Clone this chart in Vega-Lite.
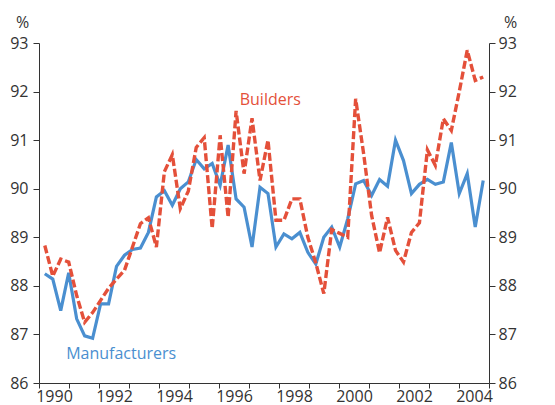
{
  "$schema": "https://vega.github.io/schema/vega-lite/v6.json",
  "autosize": "none",
  "width": 450,
  "height": 340,
  "padding": {"left": 39, "top": 43, "right": 66, "bottom": 23},
  "background": "white",
  "config": {
    "view": {"stroke": null},
    "font": "Open Sans",
    "axis": {"labelFont": "Open Sans", "labelFontSize": 16, "labelColor": "#333333", "domainColor": "#333333", "tickColor": "#333333", "grid": false, "titleFont": "Open Sans", "titleFontSize": 16, "titleFontWeight": "normal", "titleColor": "#333333"}
  },
  "data": {"values": [
    {"t": 1990.193, "Manufacturers": 88.25, "Builders": 88.83},
    {"t": 1990.459, "Manufacturers": 88.14, "Builders": 88.20},
    {"t": 1990.724, "Manufacturers": 87.49, "Builders": 88.55},
    {"t": 1990.990, "Manufacturers": 88.27, "Builders": 88.49},
    {"t": 1991.256, "Manufacturers": 87.32, "Builders": 87.80},
    {"t": 1991.522, "Manufacturers": 86.97, "Builders": 87.25},
    {"t": 1991.787, "Manufacturers": 86.92, "Builders": 87.45},
    {"t": 1992.053, "Manufacturers": 87.63, "Builders": 87.70},
    {"t": 1992.319, "Manufacturers": 87.63, "Builders": 87.95},
    {"t": 1992.584, "Manufacturers": 88.40, "Builders": 88.14},
    {"t": 1992.850, "Manufacturers": 88.63, "Builders": 88.32},
    {"t": 1993.116, "Manufacturers": 88.75, "Builders": 88.80},
    {"t": 1993.381, "Manufacturers": 88.78, "Builders": 89.28},
    {"t": 1993.647, "Manufacturers": 89.10, "Builders": 89.40},
    {"t": 1993.913, "Manufacturers": 89.83, "Builders": 88.80},
    {"t": 1994.179, "Manufacturers": 89.96, "Builders": 90.35},
    {"t": 1994.444, "Manufacturers": 89.66, "Builders": 90.70},
    {"t": 1994.710, "Manufacturers": 90.00, "Builders": 89.59},
    {"t": 1994.976, "Manufacturers": 90.14, "Builders": 89.95},
    {"t": 1995.241, "Manufacturers": 90.60, "Builders": 90.85},
    {"t": 1995.507, "Manufacturers": 90.41, "Builders": 91.05},
    {"t": 1995.773, "Manufacturers": 90.52, "Builders": 89.18},
    {"t": 1996.038, "Manufacturers": 90.07, "Builders": 91.10},
    {"t": 1996.304, "Manufacturers": 90.90, "Builders": 89.41},
    {"t": 1996.570, "Manufacturers": 89.79, "Builders": 91.60},
    {"t": 1996.836, "Manufacturers": 89.62, "Builders": 90.31},
    {"t": 1997.101, "Manufacturers": 88.80, "Builders": 91.45},
    {"t": 1997.367, "Manufacturers": 90.03, "Builders": 90.17},
    {"t": 1997.633, "Manufacturers": 89.90, "Builders": 91.00},
    {"t": 1997.898, "Manufacturers": 88.80, "Builders": 89.35},
    {"t": 1998.164, "Manufacturers": 89.07, "Builders": 89.35},
    {"t": 1998.430, "Manufacturers": 88.97, "Builders": 89.79},
    {"t": 1998.695, "Manufacturers": 89.10, "Builders": 89.79},
    {"t": 1998.961, "Manufacturers": 88.69, "Builders": 89.00},
    {"t": 1999.227, "Manufacturers": 88.45, "Builders": 88.47},
    {"t": 1999.493, "Manufacturers": 89.00, "Builders": 87.84},
    {"t": 1999.758, "Manufacturers": 89.21, "Builders": 89.16},
    {"t": 2000.024, "Manufacturers": 88.80, "Builders": 89.08},
    {"t": 2000.290, "Manufacturers": 89.38, "Builders": 89.00},
    {"t": 2000.555, "Manufacturers": 90.10, "Builders": 91.85},
    {"t": 2000.821, "Manufacturers": 90.17, "Builders": 90.72},
    {"t": 2001.087, "Manufacturers": 89.86, "Builders": 89.45},
    {"t": 2001.352, "Manufacturers": 90.19, "Builders": 88.68},
    {"t": 2001.618, "Manufacturers": 90.05, "Builders": 89.41},
    {"t": 2001.884, "Manufacturers": 91.00, "Builders": 88.73},
    {"t": 2002.150, "Manufacturers": 90.58, "Builders": 88.49},
    {"t": 2002.415, "Manufacturers": 89.90, "Builders": 89.10},
    {"t": 2002.681, "Manufacturers": 90.09, "Builders": 89.30},
    {"t": 2002.947, "Manufacturers": 90.19, "Builders": 90.80},
    {"t": 2003.212, "Manufacturers": 90.09, "Builders": 90.48},
    {"t": 2003.478, "Manufacturers": 90.14, "Builders": 91.44},
    {"t": 2003.744, "Manufacturers": 90.95, "Builders": 91.20},
    {"t": 2004.009, "Manufacturers": 89.90, "Builders": 92.00},
    {"t": 2004.275, "Manufacturers": 90.31, "Builders": 92.85},
    {"t": 2004.541, "Manufacturers": 89.21, "Builders": 92.23},
    {"t": 2004.807, "Manufacturers": 90.17, "Builders": 92.30}
  ]},
  "encoding": {
    "x": {
      "field": "t", "type": "quantitative",
      "scale": {"domain": [1990, 2005], "nice": false, "zero": false},
      "axis": {
        "title": null,
        "values": [1990, 1990.5, 1991, 1991.5, 1992, 1992.5, 1993, 1993.5, 1994, 1994.5, 1995, 1995.5, 1996, 1996.5, 1997, 1997.5, 1998, 1998.5, 1999, 1999.5, 2000, 2000.5, 2001, 2001.5, 2002, 2002.5, 2003, 2003.5, 2004, 2004.5, 2005],
        "labelExpr": "datum.value % 2 == 0.5 ? '' + floor(datum.value) : ''",
        "tickOpacity": {"condition": {"test": "datum.value % 1 != 0", "value": 0}, "value": 1},
        "tickSize": 5,
        "labelPadding": 0,
        "labelFlush": false,
        "labelOverlap": false
      }
    }
  },
  "layer": [
    {
      "mark": {"type": "line", "color": "#4A8FD0", "strokeWidth": 3.2, "strokeJoin": "miter"},
      "encoding": {
        "y": {"field": "Manufacturers", "type": "quantitative",
          "scale": {"domain": [86, 93], "nice": false, "zero": false},
          "axis": {"orient": "left", "values": [86, 87, 88, 89, 90, 91, 92, 93], "tickSize": 6, "labelPadding": 5, "title": "%", "titleAngle": 0, "titleX": -17, "titleY": -21, "titleAlign": "center", "titleBaseline": "middle"}}
      }
    },
    {
      "mark": {"type": "line", "color": "#E4503A", "strokeWidth": 3.4, "strokeDash": [8, 3]},
      "encoding": {
        "y": {"field": "Builders", "type": "quantitative",
          "scale": {"domain": [86, 93], "nice": false, "zero": false},
          "axis": {"orient": "right", "values": [86, 87, 88, 89, 90, 91, 92, 93], "tickSize": 6, "labelPadding": 3, "title": "%", "titleAngle": 0, "titleX": 21, "titleY": -21, "titleAlign": "center", "titleBaseline": "middle"}}
      }
    },
    {
      "data": {"values": [
        {"t": 1997.71, "v": 91.82, "label": "Builders", "c": "#E4503A"},
        {"t": 1992.74, "v": 86.60, "label": "Manufacturers", "c": "#4A8FD0"}
      ]},
      "mark": {"type": "text", "fontSize": 16, "align": "center", "baseline": "middle", "font": "Open Sans"},
      "encoding": {
        "y": {"field": "v", "type": "quantitative", "scale": {"domain": [86, 93], "nice": false, "zero": false}, "axis": null},
        "text": {"field": "label"},
        "color": {"field": "c", "type": "nominal", "scale": null}
      }
    }
  ],
  "resolve": {"scale": {"y": "independent"}, "axis": {"y": "independent"}}
}
